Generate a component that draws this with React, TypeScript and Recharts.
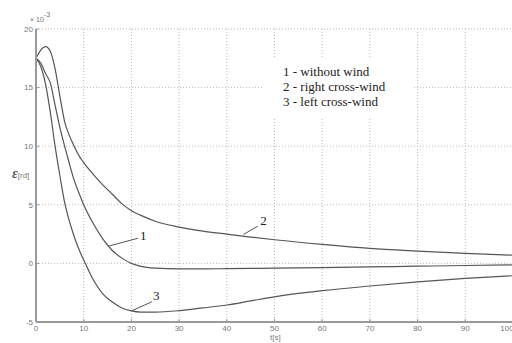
import { CartesianGrid, Line, LineChart, ReferenceDot, ReferenceLine, XAxis, YAxis } from 'recharts'

// time axis [s]
const time = [0, 1, 2, 3, 4, 5, 6, 7, 8, 9, 10, 12, 14, 16, 18, 20, 22, 25, 30, 35, 40, 45, 50, 60, 70, 80, 90, 100]
// epsilon [rd] x 1e-3
const withoutWind = [17.5, 17.1, 16.2, 15.4, 13.5, 11.6, 10.0, 8.5, 7.1, 6.0, 5.0, 3.4, 2.1, 1.1, 0.45, 0.0, -0.25, -0.4, -0.47, -0.47, -0.45, -0.43, -0.41, -0.36, -0.3, -0.24, -0.18, -0.13]
const rightCross = [17.5, 18.2, 18.5, 18.1, 16.6, 14.3, 12.1, 10.9, 10.0, 9.2, 8.6, 7.6, 6.7, 5.9, 5.1, 4.5, 4.1, 3.6, 3.1, 2.75, 2.5, 2.25, 2.02, 1.62, 1.28, 1.05, 0.85, 0.7]
const leftCross = [17.5, 16.8, 15.3, 12.9, 10.0, 7.5, 5.2, 3.6, 2.3, 1.2, 0.3, -1.4, -2.6, -3.3, -3.8, -4.05, -4.15, -4.15, -4.03, -3.8, -3.55, -3.2, -2.85, -2.33, -1.93, -1.57, -1.28, -1.05]

const xTicks = [0, 10, 20, 30, 40, 50, 60, 70, 80, 90, 100]
const yTicks = [-5, 0, 5, 10, 15, 20]
const legendLines = ['1 - without wind', '2 - right cross-wind', '3 - left cross-wind']

// curve labels: leader start, leader end, text position
const curveLabels = [
  { name: '1', from: [15.2, 1.47], to: [21.4, 2.15], at: [22.5, 2.4] },
  { name: '2', from: [43.5, 2.47], to: [46.5, 3.18], at: [47.7, 3.7] },
  { name: '3', from: [20.1, -4.04], to: [24.3, -3.27], at: [25.2, -2.7] },
]

const data = time.map((t, i) => ({
  t,
  w1: withoutWind[i],
  w2: rightCross[i],
  w3: leftCross[i],
}))

const axisColor = '#9a9a9a'
const lineColor = '#555'
const tickFont = { fontSize: 8, fill: '#777', fontFamily: 'Arial, sans-serif' }

export default function App() {
  return (
    <div style={{ position: 'absolute', left: 0, top: 0, width: 512, height: 343, overflow: 'hidden', background: '#fff' }}>
      <LineChart width={513} height={343} data={data} margin={{ top: 29, right: 0, left: 0, bottom: 0 }}>
        <CartesianGrid stroke="#bbb" strokeDasharray="1 2" />
        <XAxis
          dataKey="t"
          type="number"
          domain={[0, 100]}
          ticks={xTicks}
          height={21}
          tick={tickFont}
          tickLine={{ stroke: axisColor }}
          tickSize={-3}
          tickMargin={6}
          axisLine={{ stroke: axisColor, strokeWidth: 2 }}
        />
        <XAxis
          xAxisId="top"
          dataKey="t"
          type="number"
          orientation="top"
          domain={[0, 100]}
          ticks={xTicks}
          height={0}
          tick={false}
          tickLine={{ stroke: axisColor }}
          tickSize={-3}
          axisLine={{ stroke: axisColor, strokeWidth: 2 }}
        />
        <YAxis
          type="number"
          domain={[-5, 20]}
          ticks={yTicks}
          width={36}
          tick={tickFont}
          tickLine={{ stroke: axisColor }}
          tickSize={-3}
          tickMargin={6}
          axisLine={{ stroke: axisColor, strokeWidth: 2 }}
        />
        <Line type="monotone" dataKey="w1" stroke={lineColor} strokeWidth={1.2} dot={false} isAnimationActive={false} />
        <Line type="monotone" dataKey="w2" stroke={lineColor} strokeWidth={1.2} dot={false} isAnimationActive={false} />
        <Line type="monotone" dataKey="w3" stroke={lineColor} strokeWidth={1.2} dot={false} isAnimationActive={false} />
        {curveLabels.map((c) => (
          <ReferenceLine
            key={'l' + c.name}
            segment={[
              { x: c.from[0], y: c.from[1] },
              { x: c.to[0], y: c.to[1] },
            ]}
            stroke={lineColor}
            strokeWidth={1}
          />
        ))}
        {curveLabels.map((c) => (
          <ReferenceDot
            key={'t' + c.name}
            x={c.at[0]}
            y={c.at[1]}
            r={0}
            shape={(p: any) => (
              <text
                x={p.cx}
                y={p.cy}
                textAnchor="middle"
                dominantBaseline="central"
                fontFamily="'Liberation Serif', 'Times New Roman', serif"
                fontSize={13}
                fill="#222"
              >
                {c.name}
              </text>
            )}
          />
        ))}
      </LineChart>

      <div
        style={{
          position: 'absolute',
          left: 262,
          top: 57,
          width: 151,
          height: 60,
          background: '#fff',
          paddingLeft: 21,
          paddingTop: 7,
          boxSizing: 'border-box',
          fontFamily: "'Liberation Serif', 'Times New Roman', serif",
          fontSize: 13,
          lineHeight: '15px',
          color: '#222',
          whiteSpace: 'nowrap',
        }}
      >
        {legendLines.map((s) => (
          <div key={s}>{s}</div>
        ))}
      </div>

      <div style={{ position: 'absolute', left: 30, top: 13, fontFamily: 'Arial, sans-serif', fontSize: 7, color: '#777', whiteSpace: 'nowrap' }}>
        × 10<sup style={{ fontSize: 7, position: 'relative', top: -2 }}>-3</sup>
      </div>

      <div style={{ position: 'absolute', left: 12, top: 164, whiteSpace: 'nowrap' }}>
        <span style={{ fontFamily: "'Liberation Serif', serif", fontStyle: 'italic', fontWeight: 'bold', fontSize: 14, color: '#555' }}>ε</span>
        <span style={{ fontFamily: 'Arial, sans-serif', fontSize: 8, color: '#777' }}>[rd]</span>
      </div>

      <div style={{ position: 'absolute', left: 270, top: 333, fontFamily: 'Arial, sans-serif', fontSize: 8, color: '#777' }}>
        t[s]
      </div>
    </div>
  )
}
